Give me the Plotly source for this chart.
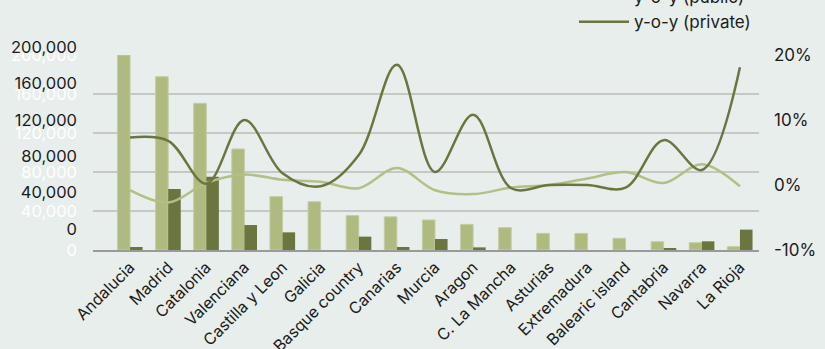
import plotly.graph_objects as go

regions = ["Andalucia", "Madrid", "Catalonia", "Valenciana", "Castilla y Leon",
           "Galicia", "Basque country", "Canarias", "Murcia", "Aragon",
           "C. La Mancha", "Asturias", "Extremadura", "Balearic island",
           "Cantabria", "Navarra", "La Rioja"]

public_units = [200000, 177700, 150400, 103600, 54700, 49500, 35200, 34000, 30800,
                26300, 22900, 17100, 17000, 12000, 8500, 7500, 3400]
private_units = [3100, 62600, 75200, 25600, 18100, 0, 13700, 3100, 11300,
                 2700, 0, 0, 0, 0, 2000, 8900, 20900]

yoy_public = [-0.8, -2.7, 0.3, 1.6, 0.8, 0.5, -0.5, 2.6, -0.8,
              -1.4, -0.4, 0.0, 1.0, 2.0, 0.3, 3.2, -0.2]
yoy_private = [7.3, 6.8, 0.2, 10.0, 1.8, -0.2, 4.6, 18.5, 2.0,
               10.8, -0.5, 0.0, 0.0, -0.4, 6.9, 2.3, 18.1]

left_ticks = [0, 40000, 80000, 120000, 160000, 200000]
left_labels = ["0", "40,000", "80,000", "120,000", "160,000", "200,000"]
right_ticks = [-10, 0, 10, 20]
right_labels = ["-10%", "0%", "10%", "20%"]

BG = "#e8eeeb"
LIGHT = "#afba80"
DARK = "#6b7540"
LINE_LIGHT = "#b2bf86"
TEXT = "#1c1c1c"
FONT = "Inter"

W, H = 825, 349
PLOT_L, PLOT_R = 93, 759
PLOT_TOP, PLOT_BOT = 40, 250
AX_TOP = 55
plot_h = PLOT_BOT - PLOT_TOP
main_top = (PLOT_BOT - AX_TOP) / plot_h
lab_lo = (PLOT_BOT - 229) / plot_h
lab_hi = (PLOT_BOT - 47) / plot_h

fig = go.Figure()

fig.add_trace(go.Bar(name="Public", x=regions, y=public_units,
                     marker=dict(color=LIGHT, line=dict(color="#c4cca0", width=1)),
                     yaxis="y", showlegend=False))
fig.add_trace(go.Bar(name="Private", x=regions, y=private_units,
                     marker=dict(color=DARK, line=dict(width=0)),
                     yaxis="y", showlegend=False))
fig.add_trace(go.Scatter(name="y-o-y (public)", x=regions, y=yoy_public,
                         mode="lines", yaxis="y2",
                         line=dict(color=LINE_LIGHT, width=2.5, shape="spline", smoothing=1)))
fig.add_trace(go.Scatter(name="y-o-y (private)", x=regions, y=yoy_private,
                         mode="lines", yaxis="y2",
                         line=dict(color=DARK, width=2.5, shape="spline", smoothing=1)))
# empty trace that carries the dark tick-label axis
fig.add_trace(go.Scatter(x=[regions[0]], y=[None], yaxis="y3", showlegend=False,
                         hoverinfo="skip", mode="markers"))

fig.update_layout(
    width=W, height=H,
    paper_bgcolor=BG, plot_bgcolor="rgba(0,0,0,0)",
    margin=dict(l=PLOT_L, r=W - PLOT_R, t=PLOT_TOP, b=H - PLOT_BOT, autoexpand=False),
    barmode="group", bargap=0.34, bargroupgap=0,
    font=dict(family=FONT, color=TEXT, size=16),
    showlegend=True,
    legend=dict(x=(574 - PLOT_L) / (PLOT_R - PLOT_L), xanchor="left",
                y=(PLOT_BOT + 21) / plot_h, yanchor="top",
                bgcolor="rgba(0,0,0,0)", font=dict(size=17, color=TEXT),
                tracegroupgap=0, itemwidth=50),
    xaxis=dict(showgrid=False, showline=True, linecolor="#9a9a9a", linewidth=1.5,
               tickangle=-45, tickfont=dict(size=16, color=TEXT), ticks="",
               anchor="y"),
    yaxis=dict(domain=[0, main_top], range=[0, 200000], tickvals=left_ticks,
               ticktext=left_labels, showgrid=True, gridcolor="#c6c8c6", gridwidth=1.5,
               zeroline=False, showline=False, ticks="",
               tickfont=dict(size=16.5, color="#ffffff"), ticklabelstandoff=15),
    yaxis2=dict(overlaying="y", side="right", range=[-10, 20], tickvals=right_ticks,
                ticktext=right_labels, showgrid=False, zeroline=False, showline=False,
                ticks="", tickfont=dict(size=17, color=TEXT), ticklabelstandoff=14),
    yaxis3=dict(domain=[lab_lo, lab_hi], range=[-300, 200300], anchor="x", side="left",
                tickvals=left_ticks, ticktext=left_labels, showgrid=False,
                zeroline=False, showline=False, ticks="",
                tickfont=dict(size=16.5, color=TEXT), ticklabelstandoff=15),
)

fig.write_html("out.html")
